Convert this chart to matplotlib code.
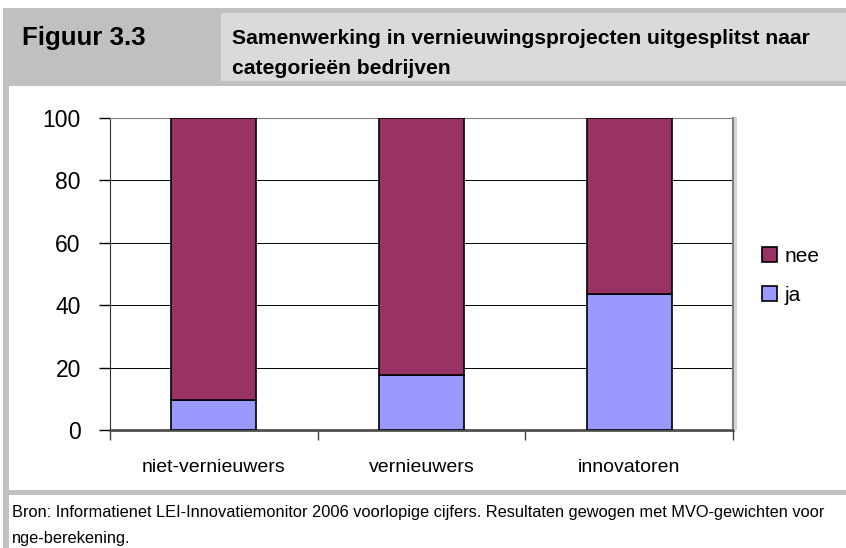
import matplotlib
matplotlib.use("Agg")
import matplotlib.pyplot as plt
from matplotlib.patches import Rectangle

categories = ["niet-vernieuwers", "vernieuwers", "innovatoren"]
ja = [9.5, 17.5, 43.5]
nee = [100 - v for v in ja]
yticks = [0, 20, 40, 60, 80, 100]

W, H = 846, 548
plain = ["Liberation Sans", "DejaVu Sans"]

fig = plt.figure(figsize=(W / 100, H / 100), dpi=100)
fig.patch.set_facecolor("white")
renderer = fig.canvas.get_renderer()


def px(x, y):
    return x / W, 1 - y / H


def box(x0, y0, x1, y1, color):
    fig.patches.append(Rectangle(px(x0, y1), (x1 - x0) / W, (y1 - y0) / H,
                                 transform=fig.transFigure, facecolor=color,
                                 edgecolor="none", zorder=0))


def fitted_text(x, y, s, width, size, **kw):
    # shrink/grow text so its width matches the reference
    t = fig.text(*px(x, y), s, family=plain, fontsize=size, va="center",
                 ha="left", **kw)
    w = t.get_window_extent(renderer).width
    t.set_fontsize(size * width / w)
    return t


# frame / header / footer shapes
box(3, 8, W, 86, "#c0c0c0")
box(221, 13, W, 81, "#dadada")
box(3, 86, 9, H, "#c0c0c0")
box(3, 490, W, 495, "#c0c0c0")
box(734, 117, 737, 430, "#d4d4d4")

fitted_text(22, 38, "Figuur 3.3", 124, 15, weight="bold")
fitted_text(232, 38, "Samenwerking in vernieuwingsprojecten uitgesplitst naar",
            580, 15, weight="bold")
t2 = fig.text(*px(232, 68), "categorieën bedrijven", family=plain, weight="bold",
              va="center", ha="left")
fn = fitted_text(12, 512, "Bron: Informatienet LEI-Innovatiemonitor 2006 voorlopige "
                 "cijfers. Resultaten gewogen met MVO-gewichten voor", 816, 12)
fig.text(*px(12, 539), "nge-berekening.", family=plain, fontsize=fn.get_fontsize(),
         va="center", ha="left")

# chart
ax = fig.add_axes([110 / W, (H - 430) / H, 623 / W, 312 / H])
x = range(len(categories))
ax.bar(x, ja, width=0.41, color="#9999ff", edgecolor="black", linewidth=1.2,
       label="ja", zorder=3)
ax.bar(x, nee, bottom=ja, width=0.41, color="#993366", edgecolor="black",
       linewidth=1.2, label="nee", zorder=3)

ax.set_xlim(-0.5, 2.5)
ax.set_ylim(0, 100)
ax.set_yticks(yticks)
ax.yaxis.grid(True, color="black", linewidth=0.7, zorder=0)
ax.set_axisbelow(True)

ax.set_xticks(list(x))
ax.set_xticklabels(categories, family=plain, fontsize=14)
ax.set_xticks([-0.5, 0.5, 1.5, 2.5], minor=True)
ax.tick_params(axis="x", which="major", length=0, pad=21)
ax.tick_params(axis="x", which="minor", length=7, width=1, color="#404040")
ax.tick_params(axis="y", length=8, width=1, pad=13, labelsize=16.5)
for lab in ax.get_yticklabels():
    lab.set_family(plain)

ax.spines["left"].set_color("#303030")
ax.spines["bottom"].set_color("#505050")
ax.spines["bottom"].set_linewidth(2)
ax.spines["top"].set_color("#808080")
ax.spines["right"].set_color("#808080")
ax.spines["right"].set_linewidth(1.5)

handles, labels = ax.get_legend_handles_labels()
leg = fig.legend(handles[::-1], labels[::-1], loc="center left",
                 bbox_to_anchor=px(743, 276), frameon=False,
                 prop={"family": plain, "size": 15}, handlelength=0.75,
                 handleheight=0.75, handletextpad=0.35, labelspacing=0.95)

t2.set_fontsize(fig.texts[1].get_fontsize())
fig.savefig("out.png", dpi=100)
